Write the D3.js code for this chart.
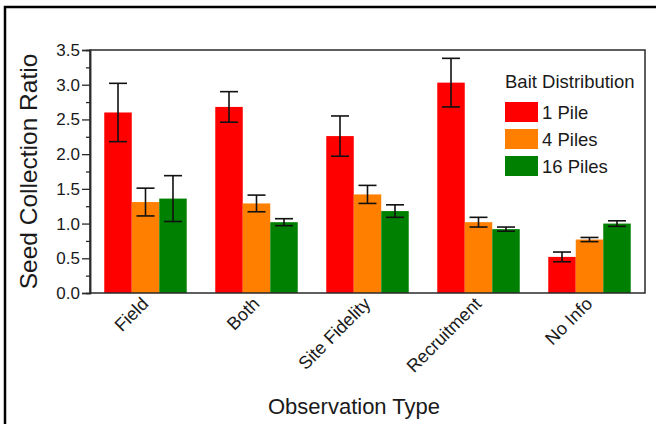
<!DOCTYPE html>
<html lang="en">
<head>
  <meta charset="UTF-8">
  <title>Seed Collection Ratio</title>
  <style>
    body { margin: 0; background: #fff; }
    text { font-family: "Liberation Sans", Arial, sans-serif; fill: #1a1a1a; }
  </style>
</head>
<body>
  <svg id="container" height="424" width="656"></svg>
<script src="https://cdn.jsdelivr.net/npm/d3@7"></script>
<script>
  // observation types and bait groups
  let categories = ["Field", "Both", "Site Fidelity", "Recruitment", "No Info"]
  let seriesNames = ["1 Pile", "4 Piles", "16 Piles"]
  let colors = ["#ff0000", "#ff8000", "#008000"]

  // means and error (half-width) per series
  let pile1 = [2.60, 2.68, 2.26, 3.03, 0.52]
  let pile1Err = [0.42, 0.22, 0.29, 0.35, 0.07]
  let pile4 = [1.31, 1.29, 1.42, 1.02, 0.77]
  let pile4Err = [0.20, 0.12, 0.13, 0.07, 0.03]
  let pile16 = [1.36, 1.02, 1.18, 0.92, 1.00]
  let pile16Err = [0.33, 0.05, 0.09, 0.03, 0.04]

  let yTicks = [0, 0.5, 1, 1.5, 2, 2.5, 3, 3.5]

  let values = [pile1, pile4, pile16]
  let errors = [pile1Err, pile4Err, pile16Err]

  let svg = d3.select("#container")
  let plotLeft = 90, plotRight = 645, plotTop = 50, plotBottom = 293

  // outer frame (top and left edges only are visible)
  svg.append("rect")
     .attr("x", 5).attr("y", 7)
     .attr("width", 700).attr("height", 500)
     .attr("fill", "none")
     .attr("stroke", "#000")
     .attr("stroke-width", 2.5)

  let x = d3.scaleBand()
            .domain(categories)
            .range([plotLeft, plotRight])
            .paddingInner(0.257)
            .paddingOuter(0.1285)

  let xs = d3.scaleBand()
             .domain(seriesNames)
             .range([0, x.bandwidth()])

  let y = d3.scaleLinear().domain([0, 3.5]).range([plotBottom, plotTop])

  // bars
  let rows = []
  categories.forEach((c, i) => {
    seriesNames.forEach((s, j) => {
      rows.push({cat: c, series: s, v: values[j][i], e: errors[j][i], color: colors[j]})
    })
  })

  let g = svg.append("g")
  g.selectAll("rect.bar")
   .data(rows)
   .enter()
   .append("rect")
   .attr("class", "bar")
   .attr("x", d => x(d.cat) + xs(d.series))
   .attr("width", xs.bandwidth())
   .attr("y", d => y(d.v))
   .attr("height", d => y(0) - y(d.v))
   .attr("fill", d => d.color)

  // error bars
  let eb = g.selectAll("g.err")
            .data(rows)
            .enter()
            .append("g")
            .attr("class", "err")
            .attr("stroke", "#111")
            .attr("stroke-width", 1.6)
  let cx = d => x(d.cat) + xs(d.series) + xs.bandwidth() / 2
  eb.append("line")
    .attr("x1", cx).attr("x2", cx)
    .attr("y1", d => y(d.v + d.e)).attr("y2", d => y(d.v - d.e))
  eb.append("line")
    .attr("x1", d => cx(d) - 9).attr("x2", d => cx(d) + 9)
    .attr("y1", d => y(d.v + d.e)).attr("y2", d => y(d.v + d.e))
  eb.append("line")
    .attr("x1", d => cx(d) - 9).attr("x2", d => cx(d) + 9)
    .attr("y1", d => y(d.v - d.e)).attr("y2", d => y(d.v - d.e))

  // plot box
  svg.append("rect")
     .attr("x", plotLeft).attr("y", plotTop)
     .attr("width", plotRight - plotLeft).attr("height", plotBottom - plotTop)
     .attr("fill", "none")
     .attr("stroke", "#2a2a2a")
     .attr("stroke-width", 1.5)

  // y axis with minor ticks
  let yAxis = svg.append("g")
     .attr("transform", `translate(${plotLeft},0)`)
  yAxis.append("g")
     .call(d3.axisLeft(y).tickValues(d3.range(0.25, 3.5, 0.5)).tickSize(4).tickFormat(""))
  yAxis.append("g")
     .call(d3.axisLeft(y).tickValues(yTicks).tickSize(8).tickPadding(2).tickFormat(d3.format(".1f")))
  yAxis.selectAll(".domain").attr("stroke", "#2a2a2a").attr("stroke-width", 1.5)
  yAxis.selectAll(".tick line").attr("stroke", "#2a2a2a").attr("stroke-width", 1.3)
  yAxis.selectAll(".tick text")
       .style("font-family", "'Liberation Sans', Arial, sans-serif")
       .style("font-size", "17px")
       .attr("fill", "#1a1a1a")

  // x tick labels
  svg.append("g")
     .selectAll("text")
     .data(categories)
     .enter()
     .append("text")
     .attr("transform", d => `translate(${x(d) + x.bandwidth() / 2 + 4},${plotBottom + 12}) rotate(-45)`)
     .attr("text-anchor", "end")
     .style("font-size", "18px")
     .text(d => d)

  // axis titles
  svg.append("text")
     .attr("transform", `translate(37,${(plotTop + plotBottom) / 2}) rotate(-90)`)
     .attr("text-anchor", "middle")
     .style("font-size", "24.5px")
     .text("Seed Collection Ratio")

  svg.append("text")
     .attr("x", 354).attr("y", 414)
     .attr("text-anchor", "middle")
     .style("font-size", "22px")
     .text("Observation Type")

  // legend
  let legend = svg.append("g").attr("transform", "translate(505,88)")
  legend.append("text")
        .attr("x", 0).attr("y", 0)
        .style("font-size", "18.5px")
        .text("Bait Distribution")
  let items = legend.selectAll("g.item")
        .data(seriesNames)
        .enter()
        .append("g")
        .attr("class", "item")
        .attr("transform", (d, i) => `translate(0,${14 + i * 27})`)
  items.append("rect")
       .attr("width", 33).attr("height", 20)
       .attr("fill", (d, i) => colors[i])
  items.append("text")
       .attr("x", 37).attr("y", 17)
       .style("font-size", "18.5px")
       .text(d => d)
</script>
</body>
</html>
